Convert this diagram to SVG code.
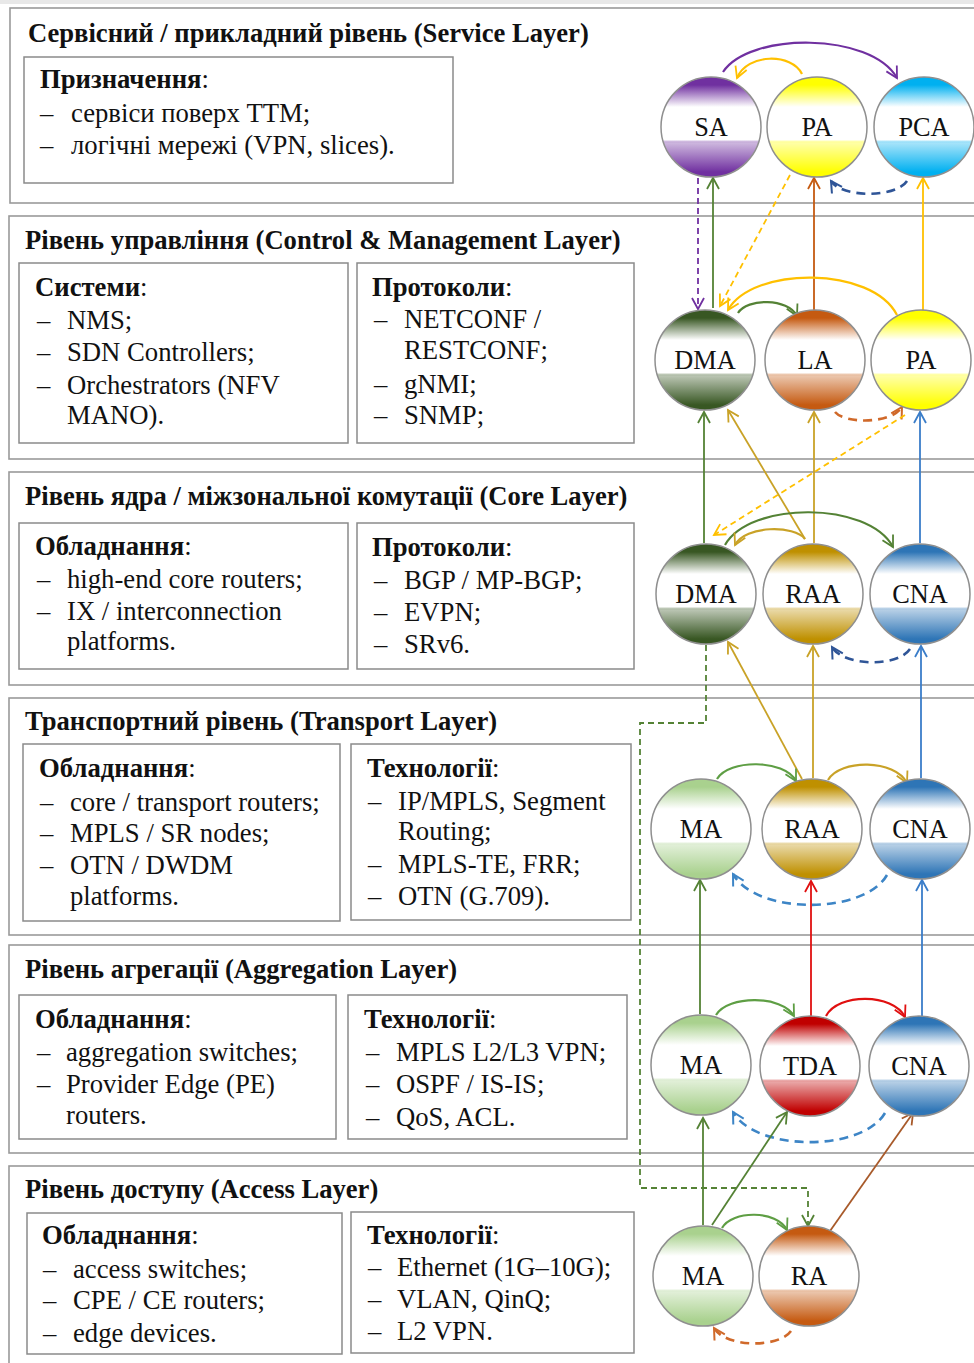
<svg xmlns="http://www.w3.org/2000/svg" width="974" height="1363" viewBox="0 0 974 1363">
<style>
.t{font-family:"Liberation Serif","Times New Roman",serif;fill:#111}
.title{font-size:26.6px;font-weight:bold}
.body{font-size:26.7px}
.b{font-weight:bold}
.lbl{font-size:26.3px;text-anchor:middle}
.layer{fill:#fff;stroke:#9a9a9a;stroke-width:1.6}
.box{fill:#fff;stroke:#8a8a8a;stroke-width:1.5}
.node{stroke:#8f8f8f;stroke-width:1.5}
.c{fill:none;stroke-width:1.8}
.arc{fill:none;stroke-width:2.2}
.d{stroke-dasharray:6 4}
.dd{stroke-dasharray:9 6;stroke-width:2.6}
</style>
<defs>
<linearGradient id="gPurple" x1="0" y1="0" x2="0" y2="1"><stop offset="0" stop-color="#7030A0"/><stop offset="0.08" stop-color="#7030A0"/><stop offset="0.3" stop-color="#fff"/><stop offset="0.63" stop-color="#fff"/><stop offset="0.66" stop-color="#7030A0" stop-opacity="0.35"/><stop offset="0.95" stop-color="#7030A0"/><stop offset="1" stop-color="#7030A0"/></linearGradient>
<linearGradient id="gYellow" x1="0" y1="0" x2="0" y2="1"><stop offset="0" stop-color="#FFFF00"/><stop offset="0.08" stop-color="#FFFF00"/><stop offset="0.3" stop-color="#fff"/><stop offset="0.63" stop-color="#fff"/><stop offset="0.66" stop-color="#FFFF00" stop-opacity="0.35"/><stop offset="0.95" stop-color="#FFFF00"/><stop offset="1" stop-color="#FFFF00"/></linearGradient>
<linearGradient id="gCyan" x1="0" y1="0" x2="0" y2="1"><stop offset="0" stop-color="#00B0F0"/><stop offset="0.08" stop-color="#00B0F0"/><stop offset="0.3" stop-color="#fff"/><stop offset="0.63" stop-color="#fff"/><stop offset="0.66" stop-color="#00B0F0" stop-opacity="0.35"/><stop offset="0.95" stop-color="#00B0F0"/><stop offset="1" stop-color="#00B0F0"/></linearGradient>
<linearGradient id="gDkGreen" x1="0" y1="0" x2="0" y2="1"><stop offset="0" stop-color="#385723"/><stop offset="0.08" stop-color="#385723"/><stop offset="0.3" stop-color="#fff"/><stop offset="0.63" stop-color="#fff"/><stop offset="0.66" stop-color="#385723" stop-opacity="0.35"/><stop offset="0.95" stop-color="#385723"/><stop offset="1" stop-color="#385723"/></linearGradient>
<linearGradient id="gOrange" x1="0" y1="0" x2="0" y2="1"><stop offset="0" stop-color="#C55A11"/><stop offset="0.08" stop-color="#C55A11"/><stop offset="0.3" stop-color="#fff"/><stop offset="0.63" stop-color="#fff"/><stop offset="0.66" stop-color="#C55A11" stop-opacity="0.35"/><stop offset="0.95" stop-color="#C55A11"/><stop offset="1" stop-color="#C55A11"/></linearGradient>
<linearGradient id="gGold" x1="0" y1="0" x2="0" y2="1"><stop offset="0" stop-color="#BF9000"/><stop offset="0.08" stop-color="#BF9000"/><stop offset="0.3" stop-color="#fff"/><stop offset="0.63" stop-color="#fff"/><stop offset="0.66" stop-color="#BF9000" stop-opacity="0.35"/><stop offset="0.95" stop-color="#BF9000"/><stop offset="1" stop-color="#BF9000"/></linearGradient>
<linearGradient id="gBlue" x1="0" y1="0" x2="0" y2="1"><stop offset="0" stop-color="#2E75B6"/><stop offset="0.08" stop-color="#2E75B6"/><stop offset="0.3" stop-color="#fff"/><stop offset="0.63" stop-color="#fff"/><stop offset="0.66" stop-color="#2E75B6" stop-opacity="0.35"/><stop offset="0.95" stop-color="#2E75B6"/><stop offset="1" stop-color="#2E75B6"/></linearGradient>
<linearGradient id="gLtGreen" x1="0" y1="0" x2="0" y2="1"><stop offset="0" stop-color="#A9D18E"/><stop offset="0.08" stop-color="#A9D18E"/><stop offset="0.3" stop-color="#fff"/><stop offset="0.63" stop-color="#fff"/><stop offset="0.66" stop-color="#A9D18E" stop-opacity="0.35"/><stop offset="0.95" stop-color="#A9D18E"/><stop offset="1" stop-color="#A9D18E"/></linearGradient>
<linearGradient id="gRed" x1="0" y1="0" x2="0" y2="1"><stop offset="0" stop-color="#C00000"/><stop offset="0.08" stop-color="#C00000"/><stop offset="0.3" stop-color="#fff"/><stop offset="0.63" stop-color="#fff"/><stop offset="0.66" stop-color="#C00000" stop-opacity="0.35"/><stop offset="0.95" stop-color="#C00000"/><stop offset="1" stop-color="#C00000"/></linearGradient>
<marker id="mPurple" markerUnits="userSpaceOnUse" markerWidth="13" markerHeight="13" refX="11" refY="6" orient="auto" overflow="visible"><path d="M0,0 L11,6 L0,12" fill="none" stroke="#7030A0" stroke-width="1.8"/></marker>
<marker id="mYellow" markerUnits="userSpaceOnUse" markerWidth="13" markerHeight="13" refX="11" refY="6" orient="auto" overflow="visible"><path d="M0,0 L11,6 L0,12" fill="none" stroke="#FFC000" stroke-width="1.8"/></marker>
<marker id="mNavy" markerUnits="userSpaceOnUse" markerWidth="13" markerHeight="13" refX="11" refY="6" orient="auto" overflow="visible"><path d="M0,0 L11,6 L0,12" fill="none" stroke="#2F5597" stroke-width="2"/></marker>
<marker id="mLtBlue" markerUnits="userSpaceOnUse" markerWidth="13" markerHeight="13" refX="11" refY="6" orient="auto" overflow="visible"><path d="M0,0 L11,6 L0,12" fill="none" stroke="#3D85C6" stroke-width="2"/></marker>
<marker id="mGreen" markerUnits="userSpaceOnUse" markerWidth="13" markerHeight="13" refX="11" refY="6" orient="auto" overflow="visible"><path d="M0,0 L11,6 L0,12" fill="none" stroke="#548235" stroke-width="1.8"/></marker>
<marker id="mGreen2" markerUnits="userSpaceOnUse" markerWidth="13" markerHeight="13" refX="11" refY="6" orient="auto" overflow="visible"><path d="M0,0 L11,6 L0,12" fill="none" stroke="#5E9E44" stroke-width="1.8"/></marker>
<marker id="mOrange" markerUnits="userSpaceOnUse" markerWidth="13" markerHeight="13" refX="11" refY="6" orient="auto" overflow="visible"><path d="M0,0 L11,6 L0,12" fill="none" stroke="#C55A11" stroke-width="1.8"/></marker>
<marker id="mOrange2" markerUnits="userSpaceOnUse" markerWidth="13" markerHeight="13" refX="11" refY="6" orient="auto" overflow="visible"><path d="M0,0 L11,6 L0,12" fill="none" stroke="#D0692A" stroke-width="2"/></marker>
<marker id="mGold" markerUnits="userSpaceOnUse" markerWidth="13" markerHeight="13" refX="11" refY="6" orient="auto" overflow="visible"><path d="M0,0 L11,6 L0,12" fill="none" stroke="#C9A227" stroke-width="1.8"/></marker>
<marker id="mBlue" markerUnits="userSpaceOnUse" markerWidth="13" markerHeight="13" refX="11" refY="6" orient="auto" overflow="visible"><path d="M0,0 L11,6 L0,12" fill="none" stroke="#3A7DC9" stroke-width="1.8"/></marker>
<marker id="mRed" markerUnits="userSpaceOnUse" markerWidth="13" markerHeight="13" refX="11" refY="6" orient="auto" overflow="visible"><path d="M0,0 L11,6 L0,12" fill="none" stroke="#E01010" stroke-width="1.8"/></marker>
<marker id="mBrown" markerUnits="userSpaceOnUse" markerWidth="13" markerHeight="13" refX="11" refY="6" orient="auto" overflow="visible"><path d="M0,0 L11,6 L0,12" fill="none" stroke="#A85A2A" stroke-width="1.8"/></marker>
</defs>
<rect x="0" y="0" width="974" height="1363" fill="#fff"/>
<rect x="0" y="0" width="974" height="4" fill="#e8e8e8"/>

<g id="layer-service">
<rect class="layer" x="10" y="8" width="1000" height="195"/>
<text class="t title" x="28" y="42">Сервісний / прикладний рівень (Service Layer)</text>
<rect class="box" x="24" y="57" width="429" height="126"/>
<text class="t body" x="40" y="88"><tspan class="b">Призначення</tspan>:</text>
<text class="t body"><tspan x="40" y="122">–</tspan><tspan x="71" y="122">сервіси поверх TTM;</tspan></text>
<text class="t body"><tspan x="40" y="154">–</tspan><tspan x="71" y="154">логічні мережі (VPN, slices).</tspan></text>
</g>

<g id="layer-control">
<rect class="layer" x="9" y="216" width="1000" height="243"/>
<text class="t title" x="25" y="249">Рівень управління (Control &amp; Management Layer)</text>
<rect class="box" x="19" y="263" width="329" height="180"/>
<text class="t body" x="35" y="296"><tspan class="b">Системи</tspan>:</text>
<text class="t body"><tspan x="37" y="329">–</tspan><tspan x="67" y="329">NMS;</tspan></text>
<text class="t body"><tspan x="37" y="361">–</tspan><tspan x="67" y="361">SDN Controllers;</tspan></text>
<text class="t body"><tspan x="37" y="394">–</tspan><tspan x="67" y="394">Orchestrators (NFV</tspan></text>
<text class="t body" x="67" y="424">MANO).</text>
<rect class="box" x="357" y="263" width="277" height="180"/>
<text class="t body" x="372" y="296"><tspan class="b">Протоколи</tspan>:</text>
<text class="t body"><tspan x="374" y="328">–</tspan><tspan x="404" y="328">NETCONF /</tspan></text>
<text class="t body" x="404" y="359">RESTCONF;</text>
<text class="t body"><tspan x="374" y="393">–</tspan><tspan x="404" y="393">gNMI;</tspan></text>
<text class="t body"><tspan x="374" y="424">–</tspan><tspan x="404" y="424">SNMP;</tspan></text>
</g>

<g id="layer-core">
<rect class="layer" x="9" y="472" width="1000" height="213"/>
<text class="t title" x="25" y="505">Рівень ядра / міжзональної комутації (Core Layer)</text>
<rect class="box" x="19" y="523" width="329" height="146"/>
<text class="t body" x="35" y="555"><tspan class="b">Обладнання</tspan>:</text>
<text class="t body"><tspan x="37" y="588">–</tspan><tspan x="67" y="588">high-end core routers;</tspan></text>
<text class="t body"><tspan x="37" y="620">–</tspan><tspan x="67" y="620">IX / interconnection</tspan></text>
<text class="t body" x="67" y="650">platforms.</text>
<rect class="box" x="357" y="523" width="277" height="146"/>
<text class="t body" x="372" y="556"><tspan class="b">Протоколи</tspan>:</text>
<text class="t body"><tspan x="374" y="589">–</tspan><tspan x="404" y="589">BGP / MP-BGP;</tspan></text>
<text class="t body"><tspan x="374" y="621">–</tspan><tspan x="404" y="621">EVPN;</tspan></text>
<text class="t body"><tspan x="374" y="653">–</tspan><tspan x="404" y="653">SRv6.</tspan></text>
</g>

<g id="layer-transport">
<rect class="layer" x="9" y="698" width="1000" height="237"/>
<text class="t title" x="25" y="730">Транспортний рівень (Transport Layer)</text>
<rect class="box" x="23" y="744" width="317" height="177"/>
<text class="t body" x="39" y="777"><tspan class="b">Обладнання</tspan>:</text>
<text class="t body"><tspan x="40" y="811">–</tspan><tspan x="70" y="811">core / transport routers;</tspan></text>
<text class="t body"><tspan x="40" y="842">–</tspan><tspan x="70" y="842">MPLS / SR nodes;</tspan></text>
<text class="t body"><tspan x="40" y="874">–</tspan><tspan x="70" y="874">OTN / DWDM</tspan></text>
<text class="t body" x="70" y="905">platforms.</text>
<rect class="box" x="351" y="744" width="280" height="176"/>
<text class="t body" x="367" y="777"><tspan class="b">Технології</tspan>:</text>
<text class="t body"><tspan x="368" y="810">–</tspan><tspan x="398" y="810">IP/MPLS, Segment</tspan></text>
<text class="t body" x="398" y="840">Routing;</text>
<text class="t body"><tspan x="368" y="873">–</tspan><tspan x="398" y="873">MPLS-TE, FRR;</tspan></text>
<text class="t body"><tspan x="368" y="905">–</tspan><tspan x="398" y="905">OTN (G.709).</tspan></text>
</g>

<g id="layer-aggregation">
<rect class="layer" x="9" y="945" width="1000" height="208"/>
<text class="t title" x="25" y="978">Рівень агрегації (Aggregation Layer)</text>
<rect class="box" x="19" y="995" width="317" height="144"/>
<text class="t body" x="35" y="1028"><tspan class="b">Обладнання</tspan>:</text>
<text class="t body"><tspan x="37" y="1061">–</tspan><tspan x="66" y="1061">aggregation switches;</tspan></text>
<text class="t body"><tspan x="37" y="1093">–</tspan><tspan x="66" y="1093">Provider Edge (PE)</tspan></text>
<text class="t body" x="66" y="1124">routers.</text>
<rect class="box" x="348" y="995" width="279" height="144"/>
<text class="t body" x="364" y="1028"><tspan class="b">Технології</tspan>:</text>
<text class="t body"><tspan x="366" y="1061">–</tspan><tspan x="396" y="1061">MPLS L2/L3 VPN;</tspan></text>
<text class="t body"><tspan x="366" y="1093">–</tspan><tspan x="396" y="1093">OSPF / IS-IS;</tspan></text>
<text class="t body"><tspan x="366" y="1126">–</tspan><tspan x="396" y="1126">QoS, ACL.</tspan></text>
</g>

<g id="layer-access">
<rect class="layer" x="9" y="1166" width="1000" height="250"/>
<text class="t title" x="25" y="1198">Рівень доступу (Access Layer)</text>
<rect class="box" x="27" y="1213" width="315" height="141"/>
<text class="t body" x="42" y="1244"><tspan class="b">Обладнання</tspan>:</text>
<text class="t body"><tspan x="43" y="1278">–</tspan><tspan x="73" y="1278">access switches;</tspan></text>
<text class="t body"><tspan x="43" y="1309">–</tspan><tspan x="73" y="1309">CPE / CE routers;</tspan></text>
<text class="t body"><tspan x="43" y="1342">–</tspan><tspan x="73" y="1342">edge devices.</tspan></text>
<rect class="box" x="351" y="1212" width="283" height="141"/>
<text class="t body" x="367" y="1244"><tspan class="b">Технології</tspan>:</text>
<text class="t body"><tspan x="368" y="1276">–</tspan><tspan x="397" y="1276">Ethernet (1G–10G);</tspan></text>
<text class="t body"><tspan x="368" y="1308">–</tspan><tspan x="397" y="1308">VLAN, QinQ;</tspan></text>
<text class="t body"><tspan x="368" y="1340">–</tspan><tspan x="397" y="1340">L2 VPN.</tspan></text>
</g>

<g id="connectors">
<!-- service row -->
<path class="arc" stroke="#7030A0" d="M723,72 C749,32 871,32 897,78" marker-end="url(#mPurple)"/>
<path class="arc" stroke="#FFC000" d="M802,74 C792,53 747,53 737,78" marker-end="url(#mYellow)"/>
<path class="arc dd" stroke="#2F5597" d="M907,181 C896,198 842,198 831,181" marker-end="url(#mNavy)"/>
<path class="c d" stroke="#7030A0" d="M698,178 L698,309" marker-end="url(#mPurple)"/>
<path class="c" stroke="#548235" d="M713,308 L713,178" marker-end="url(#mGreen)"/>
<path class="c d" stroke="#FFC000" d="M790,175 L720,306" marker-end="url(#mYellow)"/>
<path class="c" stroke="#C55A11" d="M814,311 L814,178" marker-end="url(#mOrange)"/>
<path class="c" stroke="#FFC000" d="M923,311 L923,178" marker-end="url(#mYellow)"/>
<!-- control row -->
<path class="arc" stroke="#548235" d="M738,313 C747,298 788,298 797,316" marker-end="url(#mGreen)"/>
<path class="arc" stroke="#FFC000" d="M897,315 C872,266 753,266 728,310" marker-end="url(#mYellow)"/>
<path class="arc dd" stroke="#D0692A" d="M835,412 C845,424 892,424 902,407" marker-end="url(#mOrange2)"/>
<path class="c" stroke="#548235" d="M704,543 L704,412" marker-end="url(#mGreen)"/>
<path class="c" stroke="#C9A227" d="M805,539 L728,410" marker-end="url(#mGold)"/>
<path class="c" stroke="#C9A227" d="M814,543 L814,412" marker-end="url(#mGold)"/>
<path class="c d" stroke="#FFC000" d="M905,415 L714,535" marker-end="url(#mYellow)"/>
<path class="c" stroke="#3A7DC9" d="M920,543 L920,412" marker-end="url(#mBlue)"/>
<!-- core row -->
<path class="arc" stroke="#548235" d="M725,545 C750,501 868,501 893,547" marker-end="url(#mGreen)"/>
<path class="arc" stroke="#C9A227" d="M805,539 C795,525 745,525 735,545" marker-end="url(#mGold)"/>
<path class="arc dd" stroke="#2F5597" d="M910,649 C898,667 844,667 832,647" marker-end="url(#mNavy)"/>
<path class="c d" stroke="#548235" d="M706,645 V723 H640 V1188 H808 V1226" marker-end="url(#mGreen)"/>
<path class="c" stroke="#C9A227" d="M802,779 L728,642" marker-end="url(#mGold)"/>
<path class="c" stroke="#C9A227" d="M813,778 L813,646" marker-end="url(#mGold)"/>
<path class="c" stroke="#3A7DC9" d="M921,778 L921,646" marker-end="url(#mBlue)"/>
<!-- transport row -->
<path class="arc" stroke="#5E9E44" d="M717,779 C729,759 784,759 796,781" marker-end="url(#mGreen2)"/>
<path class="arc" stroke="#C9A227" d="M828,780 C840,759 895,759 907,783" marker-end="url(#mGold)"/>
<path class="arc dd" stroke="#3D85C6" d="M887,875 C864,915 756,915 733,874" marker-end="url(#mLtBlue)"/>
<path class="c" stroke="#548235" d="M700,1014 L700,880" marker-end="url(#mGreen)"/>
<path class="c" stroke="#E01010" d="M811,1016 L811,881" marker-end="url(#mRed)"/>
<path class="c" stroke="#3A7DC9" d="M922,1016 L922,880" marker-end="url(#mBlue)"/>
<!-- aggregation row -->
<path class="arc" stroke="#5E9E44" d="M716,1015 C728,995 782,995 794,1016" marker-end="url(#mGreen2)"/>
<path class="arc" stroke="#E01010" d="M826,1016 C838,993 893,993 905,1017" marker-end="url(#mRed)"/>
<path class="arc dd" stroke="#3D85C6" d="M885,1113 C862,1152 756,1152 733,1112" marker-end="url(#mLtBlue)"/>
<path class="c" stroke="#548235" d="M703,1225 L703,1118" marker-end="url(#mGreen)"/>
<path class="c" stroke="#548235" d="M712,1225 L787,1112" marker-end="url(#mGreen)"/>
<path class="c" stroke="#A85A2A" d="M830,1231 L913,1113" marker-end="url(#mBrown)"/>
<!-- access row -->
<path class="arc" stroke="#5E9E44" d="M722,1228 C732,1210 777,1210 787,1230" marker-end="url(#mGreen2)"/>
<path class="arc dd" stroke="#D0692A" d="M791,1331 C779,1348 726,1348 714,1328" marker-end="url(#mOrange2)"/>
</g>

<g id="node-SA"><circle class="node" cx="711" cy="127" r="50" fill="url(#gPurple)"/><text class="t lbl" x="711" y="136">SA</text></g>
<g id="node-PA-service"><circle class="node" cx="817" cy="127" r="50" fill="url(#gYellow)"/><text class="t lbl" x="817" y="136">PA</text></g>
<g id="node-PCA"><circle class="node" cx="924" cy="127" r="50" fill="url(#gCyan)"/><text class="t lbl" x="924" y="136">PCA</text></g>

<g id="node-DMA-control"><circle class="node" cx="705" cy="360" r="50" fill="url(#gDkGreen)"/><text class="t lbl" x="705" y="369">DMA</text></g>
<g id="node-LA"><circle class="node" cx="815" cy="360" r="50" fill="url(#gOrange)"/><text class="t lbl" x="815" y="369">LA</text></g>
<g id="node-PA-control"><circle class="node" cx="921" cy="360" r="50" fill="url(#gYellow)"/><text class="t lbl" x="921" y="369">PA</text></g>

<g id="node-DMA-core"><circle class="node" cx="706" cy="594" r="50" fill="url(#gDkGreen)"/><text class="t lbl" x="706" y="603">DMA</text></g>
<g id="node-RAA-core"><circle class="node" cx="813" cy="594" r="50" fill="url(#gGold)"/><text class="t lbl" x="813" y="603">RAA</text></g>
<g id="node-CNA-core"><circle class="node" cx="920" cy="594" r="50" fill="url(#gBlue)"/><text class="t lbl" x="920" y="603">CNA</text></g>

<g id="node-MA-transport"><circle class="node" cx="701" cy="829" r="50" fill="url(#gLtGreen)"/><text class="t lbl" x="701" y="838">MA</text></g>
<g id="node-RAA-transport"><circle class="node" cx="812" cy="829" r="50" fill="url(#gGold)"/><text class="t lbl" x="812" y="838">RAA</text></g>
<g id="node-CNA-transport"><circle class="node" cx="920" cy="829" r="50" fill="url(#gBlue)"/><text class="t lbl" x="920" y="838">CNA</text></g>

<g id="node-MA-aggregation"><circle class="node" cx="701" cy="1065" r="50" fill="url(#gLtGreen)"/><text class="t lbl" x="701" y="1074">MA</text></g>
<g id="node-TDA"><circle class="node" cx="810" cy="1066" r="50" fill="url(#gRed)"/><text class="t lbl" x="810" y="1075">TDA</text></g>
<g id="node-CNA-aggregation"><circle class="node" cx="919" cy="1066" r="50" fill="url(#gBlue)"/><text class="t lbl" x="919" y="1075">CNA</text></g>

<g id="node-MA-access"><circle class="node" cx="703" cy="1276" r="50" fill="url(#gLtGreen)"/><text class="t lbl" x="703" y="1285">MA</text></g>
<g id="node-RA"><circle class="node" cx="809" cy="1276" r="50" fill="url(#gOrange)"/><text class="t lbl" x="809" y="1285">RA</text></g>
</svg>
